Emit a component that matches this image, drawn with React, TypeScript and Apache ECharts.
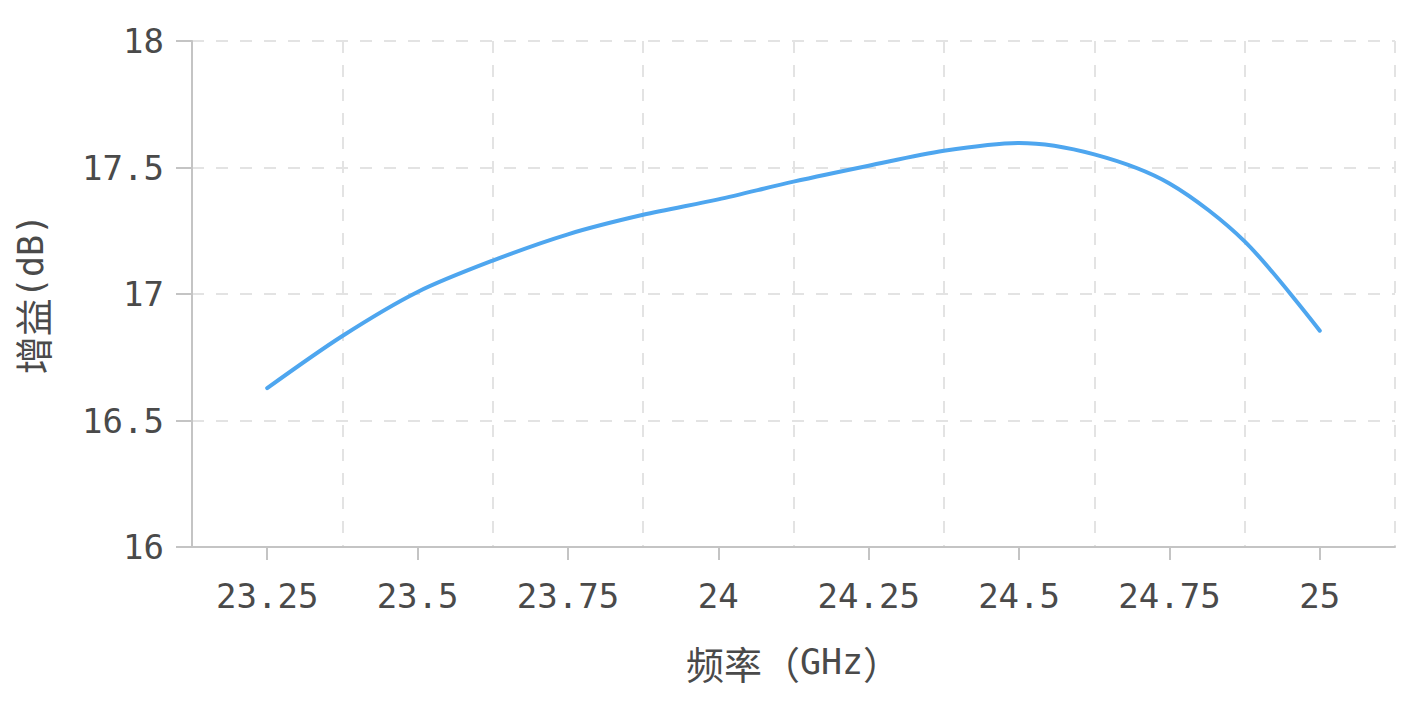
import React, { useEffect, useRef } from "react";
import * as echarts from "echarts";

const categories = ["23.25", "23.5", "23.75", "24", "24.25", "24.5", "24.75", "25"];
const freqValues = [
  23.25, 23.375, 23.5, 23.625, 23.75, 23.875, 24.0, 24.125,
  24.25, 24.375, 24.5, 24.625, 24.75, 24.875, 25.0,
];
const gainValues = [
  16.628, 16.834, 17.008, 17.132, 17.236, 17.313, 17.374, 17.444,
  17.507, 17.566, 17.597, 17.552, 17.437, 17.208, 16.855,
];
const yTicks = { min: 16, max: 18, interval: 0.5 };
const xRange = { min: 23.125, max: 25.125 };

const monoFont = "'DejaVu Sans Mono', 'Noto Sans CJK SC', sans-serif";
const cjkFont = "'Noto Sans CJK SC', sans-serif";
const textColor = "#4a4a4a";
const axisColor = "#c4c4c4";
const gridColor = "#e3e3e3";

export default function App() {
  const ref = useRef<HTMLDivElement>(null);
  useEffect(() => {
    if (!ref.current) return;
    const chart = echarts.init(ref.current, null, { renderer: "svg" });
    const nameRich = {
      c: { fontFamily: cjkFont, fontSize: 38, color: textColor },
      l: { fontFamily: monoFont, fontSize: 35, color: textColor },
    };
    chart.setOption({
      animation: false,
      backgroundColor: "#ffffff",
      grid: {
        left: 192,
        right: 12,
        top: 41,
        bottom: 156,
        containLabel: false,
        outerBoundsMode: "none",
      },
      xAxis: [
        {
          type: "category",
          data: categories,
          boundaryGap: true,
          name: "{c|频率（}{l|GHz}{c|）}",
          nameLocation: "middle",
          nameGap: 96,
          nameTextStyle: { rich: nameRich },
          axisLine: { lineStyle: { color: axisColor, width: 2 } },
          axisTick: {
            show: true,
            alignWithLabel: true,
            length: 13,
            lineStyle: { color: axisColor, width: 2 },
          },
          axisLabel: { fontFamily: monoFont, fontSize: 34, color: textColor, margin: 32 },
          splitLine: { show: true, lineStyle: { color: gridColor, width: 2, type: [12, 12] } },
        },
        {
          type: "value",
          min: xRange.min,
          max: xRange.max,
          show: false,
        },
      ],
      yAxis: {
        type: "value",
        min: yTicks.min,
        max: yTicks.max,
        interval: yTicks.interval,
        name: "{c|增益}{l|(dB)}",
        nameLocation: "middle",
        nameGap: 142,
        nameRotate: 90,
        nameTextStyle: { rich: nameRich },
        axisLine: { show: true, lineStyle: { color: axisColor, width: 2 } },
        axisTick: { show: true, length: 16, lineStyle: { color: axisColor, width: 2 } },
        axisLabel: { fontFamily: monoFont, fontSize: 34, color: textColor, margin: 28 },
        splitLine: { show: true, lineStyle: { color: gridColor, width: 2, type: [12, 12] } },
      },
      series: [
        {
          type: "line",
          xAxisIndex: 1,
          data: freqValues.map((f, i) => [f, gainValues[i]]),
          smooth: 0.3,
          showSymbol: false,
          lineStyle: { color: "#4ea6ef", width: 4, cap: "round" },
          itemStyle: { color: "#4ea6ef" },
        },
      ],
    });
    return () => chart.dispose();
  }, []);
  return (
    <div
      ref={ref}
      style={{ position: "fixed", left: 0, top: 0, width: 1407, height: 703 }}
    />
  );
}
